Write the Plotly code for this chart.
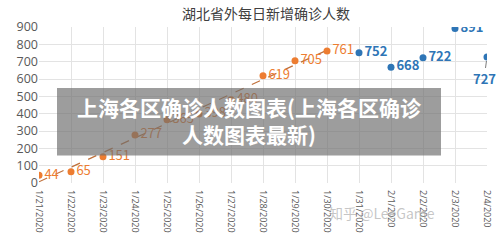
import numpy as np
import plotly.graph_objects as go

dates = ["1/21/2020", "1/22/2020", "1/23/2020", "1/24/2020", "1/25/2020",
         "1/26/2020", "1/27/2020", "1/28/2020", "1/29/2020", "1/30/2020",
         "1/31/2020", "2/1/2020", "2/2/2020", "2/3/2020", "2/4/2020"]
orange_dates = dates[:10]
orange_vals = [44, 65, 151, 277, 365, 398, 480, 619, 705, 761]
blue_dates = dates[10:]
blue_vals = [752, 668, 722, 891, 727]
title = "湖北省外每日新增确诊人数"
overlay_text = "上海各区确诊人数图表(上海各区确诊<br>人数图表最新)"
watermark = "知乎 @LeeGame"

ORANGE = "#ED7D31"
BLUE = "#2E75B6"
FONT = "Noto Sans CJK SC, Open Sans, sans-serif"

# linear trendline for the orange series
xi = np.arange(len(orange_vals))
k, b = np.polyfit(xi, orange_vals, 1)
trend = (k * xi + b).tolist()

fig = go.Figure()
fig.add_trace(go.Scatter(x=orange_dates, y=trend, mode="lines",
                         line=dict(color="#C0703A", width=1.2, dash="dash"),
                         hoverinfo="skip", showlegend=False))
fig.add_trace(go.Scatter(x=orange_dates, y=orange_vals, mode="markers+text",
                         marker=dict(color=ORANGE, size=7),
                         text=[str(v) for v in orange_vals],
                         textposition="middle right",
                         textfont=dict(color=ORANGE, size=13, family=FONT),
                         showlegend=False))
blue_text = [str(v) for v in blue_vals[:-1]] + [""]
fig.add_trace(go.Scatter(x=blue_dates, y=blue_vals, mode="markers+text",
                         marker=dict(color=BLUE, size=7),
                         text=blue_text, textposition="middle right",
                         textfont=dict(color=BLUE, size=13, family=FONT, weight="bold"),
                         showlegend=False))
fig.add_annotation(x=blue_dates[-1], y=blue_vals[-1], text=str(blue_vals[-1]),
                   showarrow=True, arrowhead=0, arrowwidth=0.8, arrowcolor="#595959",
                   ax=-3, ay=22, standoff=4,
                   font=dict(color=BLUE, size=13, family=FONT, weight="bold"))

fig.update_layout(
    width=500, height=246,
    margin=dict(l=39, r=13, t=27, b=63, autoexpand=False),
    paper_bgcolor="white", plot_bgcolor="white",
    title=dict(text=title, x=0.532, xanchor="center", y=0.943, yanchor="middle",
               font=dict(size=14, color="#404040", family=FONT)),
    font=dict(family=FONT),
)
fig.update_xaxes(type="category", categoryorder="array", categoryarray=dates,
                 range=[0, len(dates) - 1], tickangle=90, automargin=False,
                 showgrid=True, gridcolor="#E3E3E3", gridwidth=1,
                 showline=False, zeroline=False, ticks="", ticklabelstandoff=6,
                 tickfont=dict(size=9, color="#595959", family="Open Sans, sans-serif"))
fig.update_yaxes(range=[0, 900], dtick=100, showgrid=True, gridcolor="#E3E3E3",
                 zeroline=False, showline=False, ticks="", automargin=False,
                 tickfont=dict(size=12.5, color="#595959", family="Open Sans, sans-serif"))

# grey overlay banner
fig.add_shape(type="rect", xref="paper", yref="paper",
              x0=(57 - 39) / 448, x1=(441 - 39) / 448,
              y0=(183 - 155.5) / 156, y1=(183 - 88) / 156,
              fillcolor="rgba(110,110,110,0.68)", line=dict(width=0), layer="above")
fig.add_annotation(xref="paper", yref="paper", x=(249 - 39) / 448, y=(183 - 120) / 156,
                   text=overlay_text, showarrow=False, align="center",
                   font=dict(size=21, color="white", family=FONT, weight="bold"))
fig.add_annotation(xref="paper", yref="paper", x=(437 - 39) / 448, y=(183 - 225) / 156,
                   text=watermark, showarrow=False,
                   font=dict(size=14, color="rgba(160,160,160,0.6)", family=FONT))

fig.write_html("out.html")
